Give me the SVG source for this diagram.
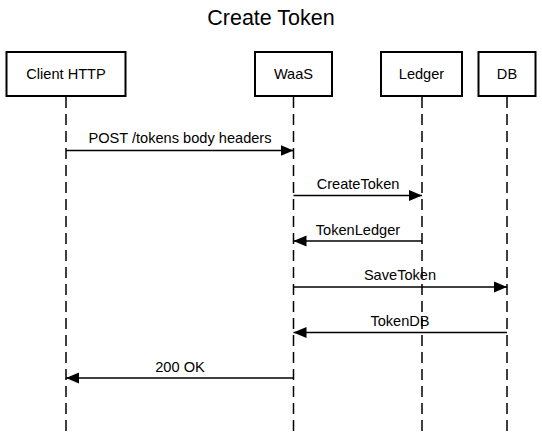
<svg xmlns="http://www.w3.org/2000/svg" width="542" height="435" viewBox="0 0 542 435">
<defs>
<style>
.box{fill:#fff;stroke:#000;stroke-width:2}
.life{stroke:#000;stroke-width:1.5;stroke-dasharray:11 6;fill:none}
.msg{stroke:#000;stroke-width:1.5;fill:none}
text{font-family:"Liberation Sans",Arial,sans-serif;fill:#000;text-anchor:middle}
.lbl{font-size:14.6px}
.title{font-size:21.5px}
</style>
<marker id="ah" viewBox="0 0 13 12" refX="13" refY="6" markerWidth="13" markerHeight="12" markerUnits="userSpaceOnUse" orient="auto">
<path d="M0,0.5 L13,6 L0,11.5 Z" fill="#000"/>
</marker>
</defs>
<rect width="542" height="435" fill="#fff"/>
<text class="title" x="271" y="25">Create Token</text>
<g id="client">
<line class="life" x1="66" y1="97" x2="66" y2="433"/>
<rect class="box" x="6.5" y="52" width="119" height="44"/>
<text class="lbl" x="66" y="79">Client HTTP</text>
</g>
<g id="waas">
<line class="life" x1="293.5" y1="97" x2="293.5" y2="433"/>
<rect class="box" x="255" y="52" width="77" height="44"/>
<text class="lbl" x="293.5" y="79">WaaS</text>
</g>
<g id="ledger">
<line class="life" x1="422" y1="97" x2="422" y2="433"/>
<rect class="box" x="381" y="52" width="81" height="44"/>
<text class="lbl" x="421.5" y="79">Ledger</text>
</g>
<g id="db">
<line class="life" x1="507" y1="97" x2="507" y2="433"/>
<rect class="box" x="478.5" y="52" width="57" height="44"/>
<text class="lbl" x="507" y="79">DB</text>
</g>
<g id="connectors">
<line class="msg" x1="66" y1="150.5" x2="293.5" y2="150.5" marker-end="url(#ah)"/>
<text class="lbl" x="180" y="143">POST /tokens body headers</text>
<line class="msg" x1="293.5" y1="195.5" x2="422" y2="195.5" marker-end="url(#ah)"/>
<text class="lbl" x="358" y="189">CreateToken</text>
<line class="msg" x1="422" y1="241" x2="293.5" y2="241" marker-end="url(#ah)"/>
<text class="lbl" x="358" y="234.5">TokenLedger</text>
<line class="msg" x1="293.5" y1="287" x2="507" y2="287" marker-end="url(#ah)"/>
<text class="lbl" x="400" y="280">SaveToken</text>
<line class="msg" x1="507" y1="332.5" x2="293.5" y2="332.5" marker-end="url(#ah)"/>
<text class="lbl" x="400" y="326">TokenDB</text>
<line class="msg" x1="293.5" y1="378" x2="66" y2="378" marker-end="url(#ah)"/>
<text class="lbl" x="180" y="371.5">200 OK</text>
</g>
</svg>
